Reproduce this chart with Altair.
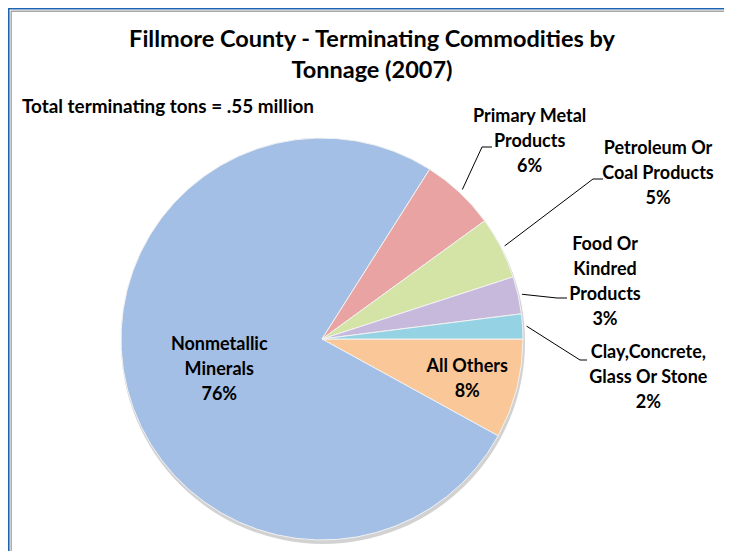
import math
import altair as alt
import pandas as pd

# ---------------- data ----------------
categories = ["All Others", "Nonmetallic Minerals", "Primary Metal Products",
              "Petroleum Or Coal Products", "Food Or Kindred Products",
              "Clay,Concrete, Glass Or Stone"]
shares = [8, 76, 6, 5, 3, 2]
label_names = ["All Others", "Nonmetallic\nMinerals", "Primary Metal\nProducts",
               "Petroleum Or\nCoal Products", "Food Or\nKindred\nProducts",
               "Clay,Concrete,\nGlass Or Stone"]
colors = ["#FAC898", "#A4BFE6", "#E8A3A2", "#D4E3A6", "#C7B9DB", "#95D2E3"]
title_lines = ["Fillmore County - Terminating Commodities by", "Tonnage (2007)"]
subtitle_text = "Total terminating tons = .55 million"

# ---------------- layout ----------------
W, H = 716, 543
CX, CY = 314, 331
R = 201
START = math.pi / 2
FONT = "Lato"
LH = 25

labels = [f"{n}\n{v}%" for n, v in zip(label_names, shares)]
df = pd.DataFrame({"cat": categories, "share": shares,
                   "idx": list(range(len(categories))), "label": labels})

theta = alt.Theta("share:Q", stack=True,
                  scale=alt.Scale(range=[START, START + 2 * math.pi]))
order = alt.Order("idx:Q")

base = alt.Chart(df)

shadow = alt.Chart(pd.DataFrame({"s": [1]})).mark_arc(
    radius=R + 1, theta=0, theta2=2 * math.pi, color="#7f7f7f", opacity=0.35
).encode(x=alt.value(CX + 1), y=alt.value(CY + 3))

pie = base.mark_arc(radius=R, stroke="#f2f2f2", strokeWidth=1).encode(
    theta=theta, order=order,
    color=alt.Color("cat:N", scale=alt.Scale(domain=categories, range=colors), legend=None),
    x=alt.value(CX), y=alt.value(CY),
)

# label placement per category: (radius, dx, dy of block centre)
place = {
    "All Others": (152, -2, 3),
    "Nonmetallic Minerals": (104, -2, 5),
    "Primary Metal Products": (280, 16, 7),
    "Petroleum Or Coal Products": (330, 42, -15),
    "Food Or Kindred Products": (290, 0, 7),
    "Clay,Concrete, Glass Or Stone": (330, -3, 60),
}

text_layers = []
for c, lab in zip(categories, labels):
    r, dx, dy = place[c]
    n = lab.count("\n") + 1
    cc = c.replace("'", "\\'")
    text_layers.append(
        base.transform_calculate(t=f"datum.cat === '{cc}' ? datum.label : ''")
        .mark_text(radius=r, dx=dx, dy=dy - (n - 1) * LH / 2, font=FONT, fontSize=18,
                   fontWeight="bold", lineBreak="\n", lineHeight=LH, align="center",
                   baseline="middle", color="black")
        .encode(theta=theta, order=order, text=alt.Text("t:N"),
                x=alt.value(CX), y=alt.value(CY))
    )

# leader lines: start at slice mid-angle on the rim, then elbow and short horizontal
elbow = {
    "Primary Metal Products": ((160, -192), (170, -192)),
    "Petroleum Or Coal Products": ((271, -160), (281, -160)),
    "Food Or Kindred Products": ((235, -41), (245, -41)),
    "Clay,Concrete, Glass Or Stone": ((258, 21), (265, 21)),
}
total = sum(shares)
cum = 0
rows = []
for c, v in zip(categories, shares):
    mid = START + (cum + v / 2) / total * 2 * math.pi
    cum += v
    if c in elbow:
        rows.append({"cat": c, "k": 0, "x": CX + (R + 4) * math.sin(mid),
                     "y": CY - (R + 4) * math.cos(mid)})
        (ex, ey), (fx, fy) = elbow[c]
        rows.append({"cat": c, "k": 1, "x": CX + ex, "y": CY + ey})
        rows.append({"cat": c, "k": 2, "x": CX + fx, "y": CY + fy})
lines_df = pd.DataFrame(rows)
leaders = alt.Chart(lines_df).mark_line(color="black", strokeWidth=1).encode(
    x=alt.X("x:Q", scale=None, axis=None),
    y=alt.Y("y:Q", scale=None, axis=None),
    detail="cat:N", order="k:Q",
)

title = alt.Chart(pd.DataFrame({"t": ["\n".join(title_lines)]})).mark_text(
    font=FONT, fontSize=23.5, fontWeight="bold", lineBreak="\n", lineHeight=31,
    align="center", baseline="alphabetic", color="black"
).encode(text="t:N", x=alt.value(364), y=alt.value(39))

subtitle = alt.Chart(pd.DataFrame({"t": [subtitle_text]})).mark_text(
    font=FONT, fontSize=18.9, fontWeight="bold", align="left", baseline="alphabetic",
    color="black"
).encode(text="t:N", x=alt.value(14), y=alt.value(105))

# frame lines (top and left, blue with grey inner line)
frame = [
    alt.Chart(pd.DataFrame({"s": [1]})).mark_rule(color="#1F64B0", strokeWidth=1.6).encode(
        x=alt.value(0), x2=alt.value(W), y=alt.value(0.8)),
    alt.Chart(pd.DataFrame({"s": [1]})).mark_rule(color="#A6A6A6", strokeWidth=1.4).encode(
        x=alt.value(3), x2=alt.value(W), y=alt.value(3.2)),
    alt.Chart(pd.DataFrame({"s": [1]})).mark_rule(color="#1F64B0", strokeWidth=1.6).encode(
        x=alt.value(0.8), y=alt.value(0), y2=alt.value(H)),
    alt.Chart(pd.DataFrame({"s": [1]})).mark_rule(color="#A6A6A6", strokeWidth=1.4).encode(
        x=alt.value(3.2), y=alt.value(3), y2=alt.value(H)),
]

chart = alt.layer(shadow, pie, leaders, *text_layers, title, subtitle, *frame).properties(
    width=W, height=H, autosize="none", padding=0, background="white"
).configure_view(stroke=None)

chart.save("out.html", embed_options={"renderer": "svg", "actions": False})
